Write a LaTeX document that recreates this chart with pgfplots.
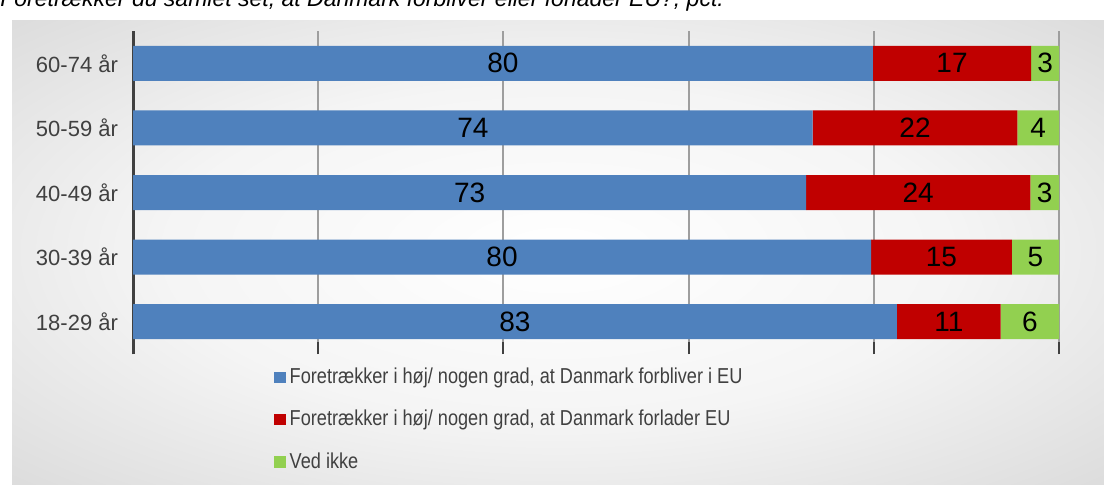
\documentclass[border=0pt]{standalone}
\usepackage{pgfplots}
\pgfplotsset{compat=1.18}
\usepackage{pgfplotstable}
\usepackage{fontspec}
\setmainfont{Liberation Sans}
\newfontfamily\legfont{Liberation Sans}[FakeStretch=0.84]
\definecolor{cblue}{HTML}{4F81BD}
\definecolor{cred}{HTML}{C00000}
\definecolor{cgreen}{HTML}{92D050}
\definecolor{txt}{HTML}{404040}
\pgfplotstableread{
y blue red green lb lr lg
0 82.5 11.2 6.3 83 11 6
1 79.7 15.2 5.1 80 15 5
2 72.7 24.2 3.1 73 24 3
3 73.4 22.1 4.5 74 22 4
4 79.9 17.1 3.0 80 17 3
}\data
\pgfdeclareradialshading{bgshade}{\pgfpoint{0bp}{0bp}}{color(0bp)=(white); color(18bp)=(white!96!black); color(58bp)=(black!26!white); color(80bp)=(black!26!white)}
\begin{document}
\begin{tikzpicture}
\clip (0,0) rectangle (552pt,242pt);
\fill[white] (0,0) rectangle (552pt,242pt);
\shade[shading=bgshade] (6pt,0) rectangle (552pt,232pt);
\node[anchor=base west, font=\itshape\fontsize{11.5}{12}\selectfont, inner sep=0pt] at (0,239pt) {Foretrækker du samlet set, at Danmark forbliver eller forlader EU?, pct.};
\begin{axis}[
  at={(66.5pt,65pt)}, anchor=south west,
  scale only axis, width=463pt, height=161.5pt,
  xmin=0, xmax=100, ymin=-0.5, ymax=4.5,
  xbar stacked, bar width=17.5pt,
  axis x line*=bottom, axis y line*=left,
  x axis line style={draw=none},
  y axis line style={line width=1.5pt, draw=txt},
  xtick={0,20,40,60,80,100}, xticklabels={},
  xmajorgrids, major grid style={draw=black!38, line width=1pt},
  tick align=inside, xtick style={draw=txt, line width=1pt}, major tick length=6pt,
  ytick={0,...,4},
  yticklabels={18-29 år,30-39 år,40-49 år,50-59 år,60-74 år},
  ytick style={draw=none},
  yticklabel style={font=\fontsize{11}{12}\selectfont, text=txt, xshift=-4pt},
  point meta=explicit symbolic,
  nodes near coords,
  every node near coord/.append style={anchor=center, font=\fontsize{14}{16}\selectfont, text=black},
  legend cell align=left,
  legend style={at={(0.152,-0.03)}, anchor=north west, draw=none, fill=none, inner sep=0pt,
    font=\legfont\fontsize{10.8}{12}\selectfont, text=txt, row sep=7.8pt},
  legend image code/.code={\fill[#1] (0pt,-2.9pt) rectangle (5.8pt,2.9pt);},
]
\addplot[fill=cblue, draw=none] table[x=blue, y=y, meta=lb] {\data};
\addplot[fill=cred, draw=none] table[x=red, y=y, meta=lr] {\data};
\addplot[fill=cgreen, draw=none] table[x=green, y=y, meta=lg] {\data};
\legend{Foretrækker i høj/ nogen grad{,} at Danmark forbliver i EU,
Foretrækker i høj/ nogen grad{,} at Danmark forlader EU,
Ved ikke}
\end{axis}
\end{tikzpicture}
\end{document}
